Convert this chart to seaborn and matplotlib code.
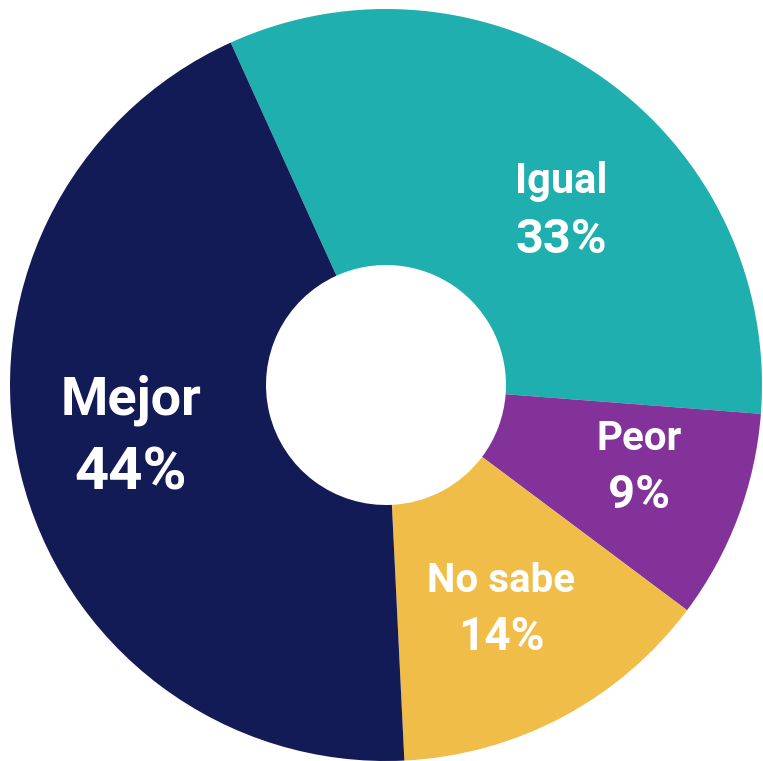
import matplotlib.pyplot as plt
import seaborn as sns

# Chart data
categories = ['Igual', 'Peor', 'No sabe', 'Mejor']
shares = [33, 9, 14, 44]
colors = ['#1FAFAF', '#83329A', '#F0BD48', '#131B57']

# label placement (pixel centre x, label baseline y, value baseline y) and font sizes
label_pos = {
    'Igual': (561, 193, 253),
    'Peor': (639, 450, 508),
    'No sabe': (501, 592, 650),
    'Mejor': (131, 415, 490),
}
label_size = {'Igual': 30, 'Peor': 29, 'No sabe': 29, 'Mejor': 39}
value_size = {'Igual': 35, 'Peor': 34, 'No sabe': 33, 'Mejor': 43}

sns.set_style('white')
plt.rcParams['font.family'] = ['Roboto', 'DejaVu Sans']

W, H = 763, 761
CX, CY, R = 386, 385, 376

fig = plt.figure(figsize=(W / 100, H / 100), dpi=100)
ax = fig.add_axes([0, 0, 1, 1])

ax.pie(shares, colors=colors, startangle=114.4, counterclock=False,
       radius=1, wedgeprops=dict(width=1 - 120 / 376, linewidth=0))

ax.set_xlim(-CX / R, (W - CX) / R)
ax.set_ylim(-(H - CY) / R, CY / R)
ax.set_aspect('equal')
ax.axis('off')


def to_data(px, py):
    return (px - CX) / R, (CY - py) / R


for cat, val in zip(categories, shares):
    px, ly, vy = label_pos[cat]
    x, y1 = to_data(px, ly)
    _, y2 = to_data(px, vy)
    ax.text(x, y1, cat, ha='center', va='baseline', color='white',
            fontsize=label_size[cat], fontweight='bold')
    ax.text(x, y2, f'{val}%', ha='center', va='baseline', color='white',
            fontsize=value_size[cat], fontweight='bold')

fig.savefig('out.png', dpi=100, facecolor='white')
